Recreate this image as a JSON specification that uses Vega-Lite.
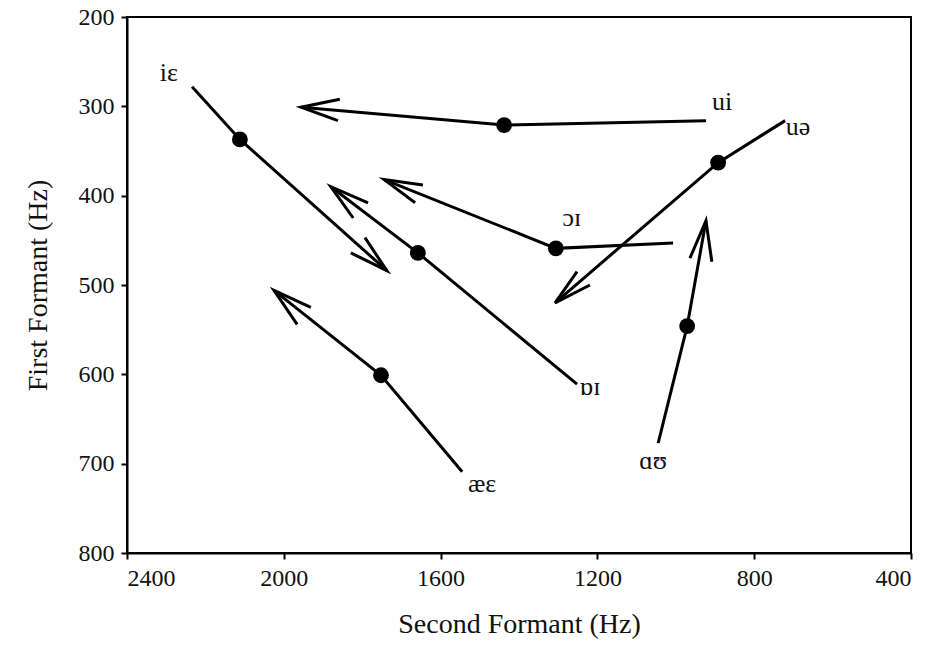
{
  "$schema": "https://vega.github.io/schema/vega-lite/v6.json",
  "autosize": "none",
  "padding": {"left": 127, "top": 17, "right": 20, "bottom": 106},
  "width": 784,
  "height": 536,
  "background": "white",
  "config": {
    "view": {"stroke": "black", "strokeWidth": 2},
    "font": "Liberation Serif",
    "axis": {
      "grid": false,
      "domainColor": "black",
      "domainWidth": 2,
      "tickColor": "black",
      "tickWidth": 2,
      "tickSize": 6,
      "labelFont": "Liberation Serif",
      "labelFontSize": 24,
      "labelFontWeight": "normal",
      "labelColor": "#111",
      "titleFont": "Liberation Serif",
      "titleFontSize": 28,
      "titleFontWeight": "normal",
      "titleColor": "#111"
    }
  },
  "datasets": {
    "paths": [
      {"seg": "iɛ", "ord": 1, "F2": 2234, "F1": 278},
      {"seg": "iɛ", "ord": 2, "F2": 2112, "F1": 337},
      {"seg": "iɛ", "ord": 3, "F2": 1737, "F1": 484},
      {"seg": "iɛ-head", "ord": 1, "F2": 1829, "F1": 464},
      {"seg": "iɛ-head", "ord": 2, "F2": 1737, "F1": 484},
      {"seg": "iɛ-head", "ord": 3, "F2": 1793, "F1": 447},
      {"seg": "ui", "ord": 1, "F2": 923, "F1": 316},
      {"seg": "ui", "ord": 2, "F2": 1438, "F1": 321},
      {"seg": "ui", "ord": 3, "F2": 1956, "F1": 301},
      {"seg": "ui-head", "ord": 1, "F2": 1857, "F1": 292},
      {"seg": "ui-head", "ord": 2, "F2": 1956, "F1": 301},
      {"seg": "ui-head", "ord": 3, "F2": 1862, "F1": 316},
      {"seg": "uə", "ord": 1, "F2": 721, "F1": 316},
      {"seg": "uə", "ord": 2, "F2": 892, "F1": 363},
      {"seg": "uə", "ord": 3, "F2": 1308, "F1": 520},
      {"seg": "uə-head", "ord": 1, "F2": 1252, "F1": 485},
      {"seg": "uə-head", "ord": 2, "F2": 1308, "F1": 520},
      {"seg": "uə-head", "ord": 3, "F2": 1219, "F1": 500},
      {"seg": "ɔɪ", "ord": 1, "F2": 1007, "F1": 453},
      {"seg": "ɔɪ", "ord": 2, "F2": 1306, "F1": 459},
      {"seg": "ɔɪ", "ord": 3, "F2": 1744, "F1": 382},
      {"seg": "ɔɪ-head", "ord": 1, "F2": 1645, "F1": 388},
      {"seg": "ɔɪ-head", "ord": 2, "F2": 1744, "F1": 382},
      {"seg": "ɔɪ-head", "ord": 3, "F2": 1665, "F1": 408},
      {"seg": "ɒɪ", "ord": 1, "F2": 1252, "F1": 611},
      {"seg": "ɒɪ", "ord": 2, "F2": 1658, "F1": 464},
      {"seg": "ɒɪ", "ord": 3, "F2": 1880, "F1": 390},
      {"seg": "ɒɪ-head", "ord": 1, "F2": 1785, "F1": 408},
      {"seg": "ɒɪ-head", "ord": 2, "F2": 1880, "F1": 390},
      {"seg": "ɒɪ-head", "ord": 3, "F2": 1823, "F1": 425},
      {"seg": "æɛ", "ord": 1, "F2": 1545, "F1": 709},
      {"seg": "æɛ", "ord": 2, "F2": 1752, "F1": 601},
      {"seg": "æɛ", "ord": 3, "F2": 2025, "F1": 506},
      {"seg": "æɛ-head", "ord": 1, "F2": 1931, "F1": 525},
      {"seg": "æɛ-head", "ord": 2, "F2": 2025, "F1": 506},
      {"seg": "æɛ-head", "ord": 3, "F2": 1966, "F1": 544},
      {"seg": "ɑʊ", "ord": 1, "F2": 1045, "F1": 677},
      {"seg": "ɑʊ", "ord": 2, "F2": 971, "F1": 546},
      {"seg": "ɑʊ", "ord": 3, "F2": 923, "F1": 428},
      {"seg": "ɑʊ-head", "ord": 1, "F2": 964, "F1": 470},
      {"seg": "ɑʊ-head", "ord": 2, "F2": 923, "F1": 428},
      {"seg": "ɑʊ-head", "ord": 3, "F2": 908, "F1": 474}
    ],
    "dots": [
      {"diph": "iɛ", "F2": 2112, "F1": 337},
      {"diph": "ui", "F2": 1438, "F1": 321},
      {"diph": "uə", "F2": 892, "F1": 363},
      {"diph": "ɔɪ", "F2": 1306, "F1": 459},
      {"diph": "ɒɪ", "F2": 1658, "F1": 464},
      {"diph": "æɛ", "F2": 1752, "F1": 601},
      {"diph": "ɑʊ", "F2": 971, "F1": 546}
    ],
    "labels": [
      {"text": "iɛ", "F2": 2293, "F1": 263},
      {"text": "ui", "F2": 882, "F1": 295},
      {"text": "uə", "F2": 688, "F1": 323},
      {"text": "ɔɪ", "F2": 1265, "F1": 425},
      {"text": "ɒɪ", "F2": 1219, "F1": 614},
      {"text": "æɛ", "F2": 1494, "F1": 723},
      {"text": "ɑʊ", "F2": 1058, "F1": 697}
    ]
  },
  "encoding": {
    "x": {
      "field": "F2", "type": "quantitative",
      "scale": {"domain": [400, 2400], "reverse": true, "nice": false, "zero": false},
      "axis": {
        "values": [2400, 2000, 1600, 1200, 800, 400], "format": "d",
        "title": "Second Formant (Hz)", "labelPadding": 7, "titlePadding": 20,
        "encode": {"labels": {"update": {"font": {"value": "Liberation Serif"}, "fontSize": {"value": 24}, "fontWeight": {"value": "normal"}}}}
      }
    },
    "y": {
      "field": "F1", "type": "quantitative",
      "scale": {"domain": [200, 800], "reverse": true, "nice": false, "zero": false},
      "axis": {
        "values": [200, 300, 400, 500, 600, 700, 800], "format": "d",
        "title": "First Formant (Hz)", "labelPadding": 7, "titlePadding": 26,
        "encode": {"labels": {"update": {"font": {"value": "Liberation Serif"}, "fontSize": {"value": 24}, "fontWeight": {"value": "normal"}}}}
      }
    }
  },
  "layer": [
    {
      "data": {"name": "paths"},
      "mark": {"type": "line", "color": "black", "strokeWidth": 3, "strokeJoin": "miter"},
      "encoding": {
        "detail": {"field": "seg", "type": "nominal"},
        "order": {"field": "ord", "type": "quantitative"}
      }
    },
    {
      "data": {"name": "dots"},
      "mark": {"type": "point", "shape": "circle", "filled": true, "color": "black", "size": 250, "opacity": 1}
    },
    {
      "data": {"name": "labels"},
      "mark": {"type": "text", "font": "Liberation Serif", "fontSize": 26, "color": "#111", "align": "center", "baseline": "middle"},
      "encoding": {"text": {"field": "text", "type": "nominal"}}
    }
  ]
}
